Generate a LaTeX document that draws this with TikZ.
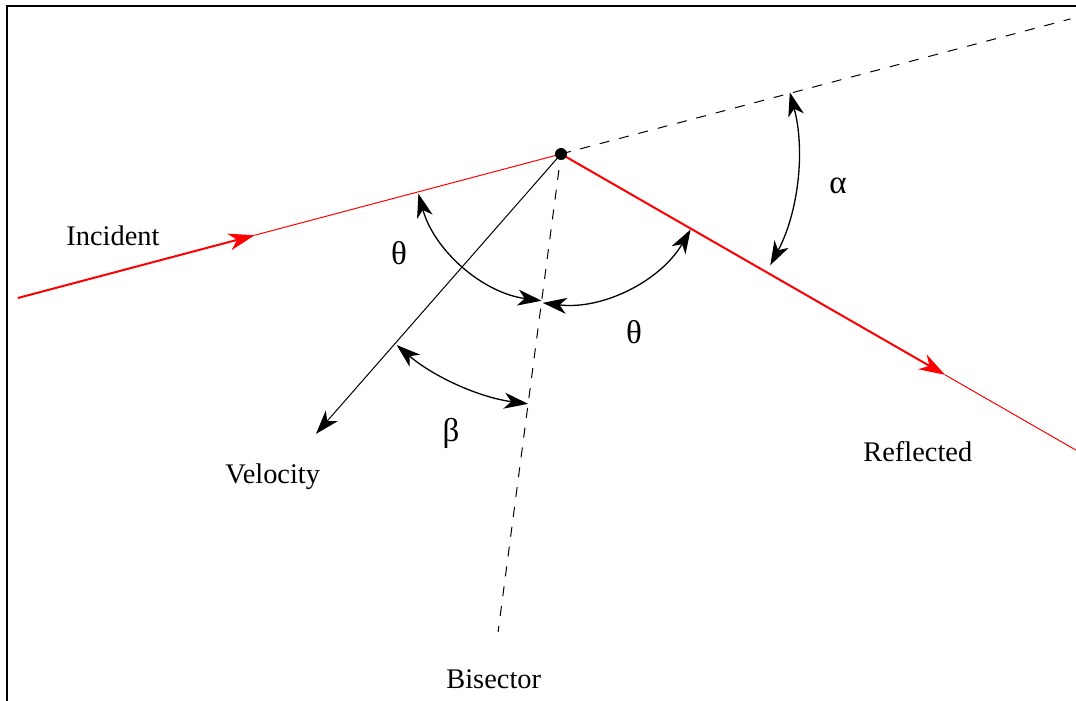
\documentclass[tikz,border=0pt]{standalone}
\usepackage{fontspec}
\setmainfont{Liberation Serif}
\usetikzlibrary{arrows.meta,calc}
\begin{document}
\begin{tikzpicture}[x=0.5pt,y=0.5pt,
  font=\fontsize{14.2}{17}\selectfont,
  lbl/.style={inner sep=0pt},
  greek/.style={inner sep=0pt, font=\fontsize{16.5}{19}\selectfont},
  raythick/.style={red, line width=1pt},
  raythin/.style={red, line width=0.5pt},
  redtip/.style={-{Stealth[length=13pt,width=8.5pt,inset=4pt]}},
  blacktip/.style={-{Stealth[length=12pt,width=8pt,inset=3.5pt]}},
  anglearc/.style={line width=0.65pt, {Stealth[length=12pt,width=8pt,inset=3.5pt]}-{Stealth[length=12pt,width=8pt,inset=3.5pt]}},
  dashline/.style={line width=0.5pt, dash pattern=on 5pt off 5pt},
  dot/.style={circle, fill=black, inner sep=0pt, minimum size=6pt}
]
\useasboundingbox (0,0) rectangle (1076,-701);
% frame
\draw[line width=1.3pt] (7,-701) -- (7,-6) -- (1076,-6);

\coordinate (P) at (561,-154);
\coordinate (IncStart) at ([shift={(P)}]194.85:562);
\coordinate (IncMid) at ([shift={(P)}]194.85:317);
\coordinate (DashEnd) at ([shift={(P)}]14.85:527);
\coordinate (RefMid) at ([shift={(P)}]-29.9:443);
\coordinate (RefEnd) at ([shift={(P)}]-29.9:594);
\coordinate (BisEnd) at ([shift={(P)}]262.5:482);
\coordinate (VelEnd) at ([shift={(P)}]228.8:372);

% rays
\draw[raythick, redtip] (IncStart) -- (IncMid);
\draw[raythin] (IncMid) -- (P);
\draw[raythick, redtip] (P) -- (RefMid);
\draw[raythin] (RefMid) -- (RefEnd);
\draw[dashline] (P) -- (DashEnd);
\draw[dashline, dash phase=2pt] (P) -- (BisEnd);
\draw[line width=0.5pt, blacktip] (P) -- (VelEnd);

% angle arcs
\draw[anglearc] ([shift={(P)}]195.5:148) arc[start angle=195.5, end angle=262.5, radius=148];
\draw[anglearc] ([shift={(P)}]-30.2:150) arc[start angle=-30.2, end angle=-97.0, radius=150];
\draw[anglearc] ([shift={(P)}]15.1:237) arc[start angle=15.1, end angle=-28.0, radius=237];
\draw[anglearc] ([shift={(P)}]229.3:252) arc[start angle=229.3, end angle=262.5, radius=252];

\node[dot] (Pdot) at (P) {};

% labels
\node[lbl, anchor=base west] (incident) at (66,-245) {Incident};
\node[lbl, anchor=base west] (velocity) at (225,-483) {Velocity};
\node[lbl, anchor=base west] (reflected) at (863,-461) {Reflected};
\node[lbl, anchor=base west] (bisector) at (446,-688) {Bisector};
\node[greek, anchor=base] (theta1) at (399,-264) {θ};
\node[greek, anchor=base] (theta2) at (634,-343) {θ};
\node[greek, anchor=base] (alpha) at (838,-193) {α};
\node[greek, anchor=base] (beta) at (451,-441) {β};
\end{tikzpicture}
\end{document}
